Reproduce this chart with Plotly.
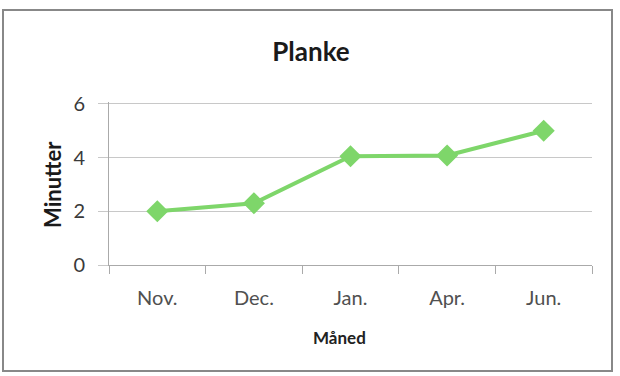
import plotly.graph_objects as go

months = ["Nov.", "Dec.", "Jan.", "Apr.", "Jun."]
minutes = [2.0, 2.3, 4.05, 4.08, 5.0]
y_ticks = [0, 2, 4, 6]

W, H = 620, 376
L, R, T, B = 109, 28, 102, 111
pw, ph = W - L - R, H - T - B

def px_x(p):
    return (p - L) / pw

def px_y(p):
    return (H - B - p) / ph

green = "#7ed66a"
fig = go.Figure()
fig.add_trace(go.Scatter(
    x=months, y=minutes, mode="lines+markers",
    line=dict(color=green, width=4),
    marker=dict(symbol="diamond", size=17, color=green),
    showlegend=False,
))

fig.update_layout(
    width=W, height=H,
    margin=dict(l=L, r=R, t=T, b=B),
    paper_bgcolor="white", plot_bgcolor="white",
    font=dict(family="Lato, Open Sans, sans-serif", color="#404040"),
    title=dict(text="<b>Planke</b>", x=px_x(311), xref="paper", xanchor="center",
               y=1 - 52 / H, yanchor="middle", font=dict(size=26, color="#1a1a1a")),
    xaxis=dict(
        type="category", tickson="boundaries", ticks="outside", ticklen=8,
        tickcolor="#aaa", showline=True, linecolor="#aaa", linewidth=1,
        showgrid=False, tickfont=dict(size=20, color="#505050"),
        ticklabelstandoff=15,
        range=[-0.5, 4.5],
    ),
    yaxis=dict(
        range=[0, 6.07], tickvals=y_ticks, ticks="outside", ticklen=10, tickcolor="#c8c8c8",
        showline=True, linecolor="#aaa", linewidth=1,
        showgrid=True, gridcolor="#c8c8c8", gridwidth=1, zeroline=False,
        tickfont=dict(size=20, color="#3a3a3a"),
        ticklabelstandoff=9,
    ),
    annotations=[
        dict(text="<b>Måned</b>", xref="paper", yref="paper", x=px_x(339), y=px_y(337),
             showarrow=False, xanchor="center", yanchor="middle",
             font=dict(size=17, color="#222")),
        dict(text="<b>Minutter</b>", xref="paper", yref="paper", x=px_x(52), y=px_y(185),
             showarrow=False, xanchor="center", yanchor="middle", textangle=-90,
             font=dict(size=22, color="#1a1a1a")),
    ],
    shapes=[dict(type="rect", xref="paper", yref="paper",
                 x0=px_x(3), x1=px_x(612), y0=px_y(371), y1=px_y(10),
                 line=dict(color="#888", width=2), fillcolor="rgba(0,0,0,0)", layer="below")],
)

fig.write_html("out.html")
